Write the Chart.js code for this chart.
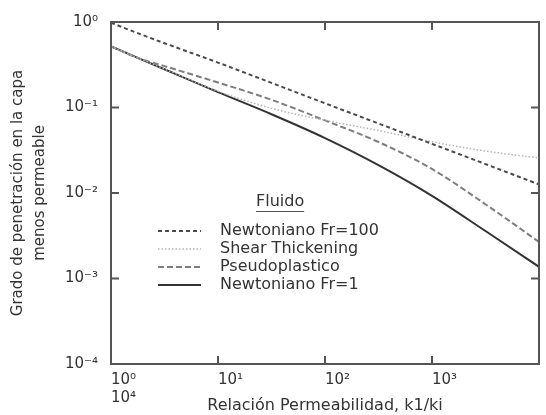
<!DOCTYPE html>
<html><head><meta charset="utf-8">
<script src="https://cdn.jsdelivr.net/npm/chart.js@4/dist/chart.umd.min.js"></script>
<style>html,body{margin:0;padding:0;background:#fff}#wrap{width:546px;height:415px}</style>
</head><body><div id="wrap"><canvas id="c" width="546" height="415"></canvas></div>
<script>
// Data (log-log plot)
const kRatio = [1, 1.778, 3.162, 10, 31.62, 100, 316.2, 1000, 3162, 10000];
const newtonianoFr100 = [0.98, 0.74, 0.565, 0.335, 0.194, 0.112, 0.065, 0.0376, 0.0218, 0.0126];
const shearThickening = [0.519, 0.380, 0.282, 0.155, 0.0977, 0.0708, 0.0537, 0.0398, 0.0309, 0.0257];
const pseudoplastico = [0.519, 0.380, 0.305, 0.196, 0.123, 0.0706, 0.0395, 0.0191, 0.00738, 0.00268];
const newtonianoFr1 = [0.519, 0.381, 0.280, 0.151, 0.0834, 0.0439, 0.0212, 0.00927, 0.00359, 0.00137];
const seriesNames = ['Newtoniano Fr=100', 'Shear Thickening', 'Pseudoplastico', 'Newtoniano Fr=1'];
const xTickValues = [1, 10, 100, 1000, 10000];
const xTickLabels = [['10⁰', '10⁴'], '10¹', '10²', '10³', ''];
const yTickValues = [1, 0.1, 0.01, 0.001, 0.0001];
const yTickLabels = ['10⁰', '10⁻¹', '10⁻²', '10⁻³', '10⁻⁴'];
const legendTitle = 'Fluido';
const xTitle = 'Relación Permeabilidad, k1/ki';
const yTitle = ['Grado de penetración en la capa', 'menos permeable'];

const FONT = '"DejaVu Sans", Verdana, sans-serif';
const pts = arr => kRatio.map((x, i) => ({x, y: arr[i]}));

const styles = [
  {borderColor: '#4a4a4a', borderWidth: 2, borderDash: [4, 3]},
  {borderColor: '#b4b4b4', borderWidth: 1.5, borderDash: [1.5, 2]},
  {borderColor: '#7e7e7e', borderWidth: 2, borderDash: [6, 3]},
  {borderColor: '#333333', borderWidth: 2, borderDash: []}
];
const seriesData = [newtonianoFr100, shearThickening, pseudoplastico, newtonianoFr1];

const frameTicks = {
  id: 'frameTicks',
  afterDraw(chart) {
    const {ctx, chartArea: a, scales} = chart;
    ctx.save();
    ctx.strokeStyle = '#555';
    ctx.lineWidth = 2;
    ctx.strokeRect(a.left, a.top, a.right - a.left, a.bottom - a.top);
    ctx.lineWidth = 2;
    const L = 8;
    xTickValues.slice(1, -1).forEach(v => {
      const px = scales.x.getPixelForValue(v);
      ctx.beginPath(); ctx.moveTo(px, a.bottom); ctx.lineTo(px, a.bottom - L); ctx.stroke();
      ctx.beginPath(); ctx.moveTo(px, a.top); ctx.lineTo(px, a.top + L); ctx.stroke();
    });
    yTickValues.slice(1, -1).forEach(v => {
      const py = scales.y.getPixelForValue(v);
      ctx.beginPath(); ctx.moveTo(a.left, py); ctx.lineTo(a.left + L, py); ctx.stroke();
      ctx.beginPath(); ctx.moveTo(a.right, py); ctx.lineTo(a.right - L, py); ctx.stroke();
    });
    ctx.restore();
  }
};

const customLegend = {
  id: 'customLegend',
  afterDraw(chart) {
    const {ctx, chartArea: a} = chart;
    ctx.save();
    ctx.fillStyle = '#333';
    ctx.font = '16px ' + FONT;
    ctx.textBaseline = 'middle';
    ctx.textAlign = 'left';
    const tx = a.left + 145, ty = a.top + 180;
    ctx.fillText(legendTitle, tx, ty);
    const w = ctx.measureText(legendTitle).width;
    ctx.strokeStyle = '#555'; ctx.lineWidth = 1;
    ctx.beginPath(); ctx.moveTo(tx, ty + 9.5); ctx.lineTo(tx + w, ty + 9.5); ctx.stroke();
    const sx = a.left + 47, ex = a.left + 90, textX = a.left + 109;
    chart.data.datasets.forEach((ds, i) => {
      const y = a.top + 209 + i * 18;
      ctx.save();
      ctx.strokeStyle = ds.borderColor;
      ctx.lineWidth = ds.borderWidth;
      ctx.setLineDash(ds.borderDash || []);
      ctx.beginPath(); ctx.moveTo(sx, y); ctx.lineTo(ex, y); ctx.stroke();
      ctx.restore();
      ctx.fillText(ds.label, textX, y);
    });
    ctx.restore();
  }
};

new Chart(document.getElementById('c'), {
  type: 'line',
  data: {
    datasets: seriesData.map((arr, i) => Object.assign({
      label: seriesNames[i],
      data: pts(arr),
      pointRadius: 0,
      fill: false,
      cubicInterpolationMode: 'monotone'
    }, styles[i]))
  },
  options: {
    responsive: false,
    devicePixelRatio: 1,
    animation: false,
    layout: {padding: {left: 0, right: 1, top: 20, bottom: 0}},
    plugins: {legend: {display: false}, tooltip: {enabled: false}},
    scales: {
      x: {
        type: 'logarithmic', min: 1, max: 10000,
        afterBuildTicks: s => { s.ticks = xTickValues.map(v => ({value: v})); },
        afterFit: s => { s.height = 51; },
        grid: {display: false, drawTicks: false},
        border: {display: false},
        ticks: {
          callback: (v, i) => xTickLabels[i],
          align: 'start', padding: 7, maxRotation: 0, autoSkip: false,
          color: '#333', font: {family: FONT, size: 15}
        },
        title: {display: true, text: xTitle, color: '#333', padding: {top: 0, bottom: 0},
                font: {family: FONT, size: 16}}
      },
      y: {
        type: 'logarithmic', min: 0.0001, max: 1,
        afterBuildTicks: s => { s.ticks = yTickValues.map(v => ({value: v})); },
        afterFit: s => { s.width = 111; },
        grid: {display: false, drawTicks: false},
        border: {display: false},
        ticks: {
          callback: (v, i) => yTickLabels[i],
          padding: 13, autoSkip: false,
          color: '#333', font: {family: FONT, size: 15}
        },
        title: {display: true, text: yTitle, color: '#333', padding: {top: 7, bottom: 0},
                font: {family: FONT, size: 15, lineHeight: 1.45}}
      }
    }
  },
  plugins: [frameTicks, customLegend]
});
</script>
</body></html>
